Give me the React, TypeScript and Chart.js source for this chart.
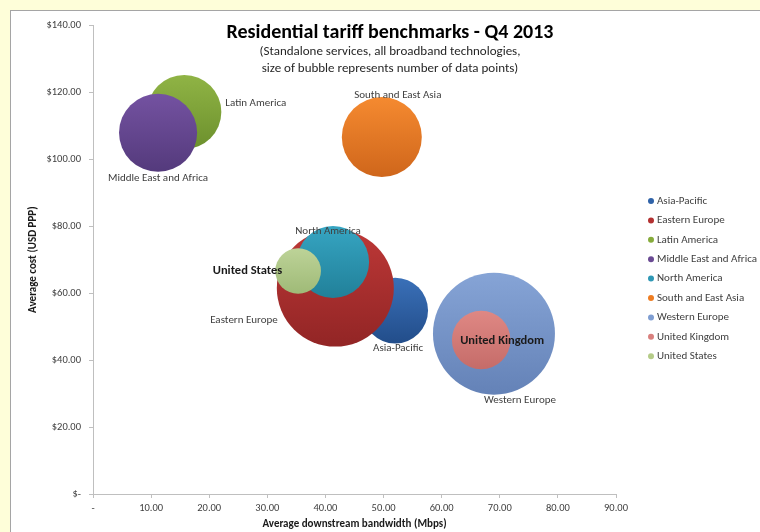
import React, { useEffect, useRef } from 'react';
import { Chart, registerables } from 'chart.js';

Chart.register(...registerables);

// ---------- data ----------
const SERIES = [
  'Asia-Pacific',
  'Eastern Europe',
  'Latin America',
  'Middle East and Africa',
  'North America',
  'South and East Asia',
  'Western Europe',
  'United Kingdom',
  'United States',
];
const BANDWIDTH = [52.0, 41.7, 15.7, 11.2, 41.3, 49.7, 69.0, 66.8, 35.3];
const COST = [54.8, 61.5, 114.1, 107.9, 69.3, 106.6, 47.9, 46.0, 66.6];
const DATA_POINTS = [29, 92, 37, 41, 35, 43, 100, 23, 14];

const X_TICKS = ['-', '10.00', '20.00', '30.00', '40.00', '50.00', '60.00', '70.00', '80.00', '90.00'];
const Y_TICKS = ['$-', '$20.00', '$40.00', '$60.00', '$80.00', '$100.00', '$120.00', '$140.00'];

const TITLE = 'Residential tariff benchmarks - Q4 2013';
const SUBTITLE = [
  '(Standalone services, all broadband technologies,',
  'size of bubble represents number of data points)',
];
const X_TITLE = 'Average downstream bandwidth (Mbps)';
const Y_TITLE = 'Average cost (USD PPP)';

// ---------- styles ----------
const FONT = 'Carlito, Lato, "Open Sans", sans-serif';
const MAX_BUBBLE_R = 61;
const MAX_POINTS = Math.max(...DATA_POINTS);

const COLORS: [string, string, string][] = [
  // [top, bottom, legend]
  ['#3a70b8', '#224d8a', '#2f62a8'],
  ['#bd3837', '#922525', '#b33131'],
  ['#90b445', '#6c902d', '#86ab3b'],
  ['#7452a1', '#543a7c', '#6a4a93'],
  ['#36a5c2', '#218099', '#2f98b5'],
  ['#f58a30', '#cf661b', '#ee7d22'],
  ['#86a4d6', '#6482b7', '#7f9ed2'],
  ['#df8884', '#c56c69', '#d9807e'],
  ['#bdd398', '#9fba77', '#b5cc88'],
];

type Place = { ax: number; ay: number; dx: number; dy: number; align: CanvasTextAlign; bold?: boolean };
const LABEL_PLACES: Place[] = [
  { ax: 0, ay: 1, dx: 3, dy: 5, align: 'center' },
  { ax: -1, ay: 0, dx: 1, dy: 32, align: 'right' },
  { ax: 1, ay: 0, dx: 4, dy: -9, align: 'left' },
  { ax: 0, ay: 1, dx: 0, dy: 6, align: 'center' },
  { ax: 0, ay: -1, dx: -5, dy: 5, align: 'center' },
  { ax: 0, ay: -1, dx: 16, dy: -2, align: 'center' },
  { ax: 0, ay: 1, dx: 26, dy: 6, align: 'center' },
  { ax: 0, ay: 0, dx: 21, dy: 1, align: 'center', bold: true },
  { ax: -1, ay: 0, dx: 7, dy: 0, align: 'right', bold: true },
];

const bubbleLabels = {
  id: 'bubbleLabels',
  afterDatasetsDraw(chart: any) {
    const ctx = chart.ctx as CanvasRenderingContext2D;
    ctx.save();
    ctx.textBaseline = 'middle';
    chart.data.datasets.forEach((ds: any, i: number) => {
      const meta = chart.getDatasetMeta(i);
      const el = meta.data[0];
      if (!el) return;
      const r = el.options.radius;
      const p = LABEL_PLACES[i];
      ctx.font = p.bold ? `bold 12.5px ${FONT}` : `11px ${FONT}`;
      ctx.fillStyle = p.bold ? '#1a1a1a' : '#404040';
      ctx.textAlign = p.align;
      ctx.fillText(ds.label, el.x + p.ax * r + p.dx, el.y + p.ay * r + p.dy);
    });
    ctx.restore();
  },
};

const titleAndLegend = {
  id: 'titleAndLegend',
  afterDraw(chart: any) {
    const ctx = chart.ctx as CanvasRenderingContext2D;
    ctx.save();
    ctx.textBaseline = 'middle';
    ctx.textAlign = 'center';
    ctx.fillStyle = '#000';
    ctx.font = `bold 20px ${FONT}`;
    ctx.fillText(TITLE, 379, 22);
    ctx.font = `13px ${FONT}`;
    ctx.fillStyle = '#262626';
    SUBTITLE.forEach((s, k) => ctx.fillText(s, 379, 40.5 + k * 17));

    // legend
    ctx.textAlign = 'left';
    ctx.font = `11px ${FONT}`;
    SERIES.forEach((s, k) => {
      const y = 190 + k * 19.4;
      ctx.beginPath();
      ctx.arc(640, y, 3, 0, Math.PI * 2);
      ctx.fillStyle = COLORS[k][2];
      ctx.fill();
      ctx.fillStyle = '#404040';
      ctx.fillText(s, 646, y);
    });
    ctx.restore();
  },
};

export default function App() {
  const ref = useRef<HTMLCanvasElement>(null);
  useEffect(() => {
    const datasets = SERIES.map((name, i) => ({
      label: name,
      data: [{ x: BANDWIDTH[i], y: COST[i], r: MAX_BUBBLE_R * Math.sqrt(DATA_POINTS[i] / MAX_POINTS) }],
      order: SERIES.length - i,
      borderWidth: 0,
      borderColor: 'rgba(0,0,0,0)',
      backgroundColor: (c: any) => {
        const chart = c.chart;
        const ys = chart.scales && chart.scales.y;
        if (!ys || c.type !== 'data' || !c.raw) return COLORS[i][2];
        const cy = ys.getPixelForValue(c.raw.y);
        const r = c.raw.r;
        if (!isFinite(cy) || !isFinite(r)) return COLORS[i][2];
        const g = chart.ctx.createLinearGradient(0, cy - r, 0, cy + r);
        g.addColorStop(0, COLORS[i][0]);
        g.addColorStop(1, COLORS[i][1]);
        return g;
      },
    }));

    const chart = new Chart(ref.current!, {
      type: 'bubble',
      data: { datasets },
      plugins: [bubbleLabels, titleAndLegend],
      options: {
        responsive: false,
        animation: false,
        devicePixelRatio: 1,
        layout: { autoPadding: false, padding: { left: 0, top: 12, right: 144, bottom: 1 } },
        plugins: { legend: { display: false }, title: { display: false }, tooltip: { enabled: false } },
        font: { family: FONT },
        scales: {
          x: {
            type: 'linear',
            min: 0,
            max: 90,
            afterFit: (s: any) => {
              s.height = 37;
            },
            grid: { drawOnChartArea: false, drawTicks: true, tickLength: 4, color: '#bfbfbf' },
            border: { color: '#bfbfbf' },
            ticks: {
              stepSize: 10,
              padding: 4,
              color: '#404040',
              font: { family: FONT, size: 10.5 },
              maxRotation: 0,
              callback: (_v: any, idx: number) => X_TICKS[idx],
            },
            title: {
              display: true,
              text: X_TITLE,
              color: '#1a1a1a',
              font: { family: FONT, size: 11, weight: 'bold' },
              padding: { top: 0, bottom: 0 },
            },
          },
          y: {
            type: 'linear',
            min: 0,
            max: 140,
            afterFit: (s: any) => {
              s.width = 82;
            },
            grid: { drawOnChartArea: false, drawTicks: true, tickLength: 4, color: '#bfbfbf' },
            border: { color: '#bfbfbf' },
            ticks: {
              stepSize: 20,
              padding: 8,
              color: '#404040',
              font: { family: FONT, size: 10.5 },
              callback: (_v: any, idx: number) => Y_TICKS[idx],
            },
            title: {
              display: true,
              text: Y_TITLE,
              color: '#1a1a1a',
              font: { family: FONT, size: 11, weight: 'bold' },
              padding: { top: 16, bottom: 0 },
            },
          },
        },
      },
    } as any);
    return () => chart.destroy();
  }, []);

  return (
    <div
      style={{
        position: 'fixed',
        left: 0,
        top: 0,
        width: 760,
        height: 532,
        background: '#fefed9',
        overflow: 'hidden',
      }}
    >
      <div
        style={{
          position: 'absolute',
          left: 10,
          top: 10,
          width: 770,
          height: 540,
          background: '#ffffff',
          border: '1px solid #a5a5a5',
          boxSizing: 'border-box',
        }}
      >
        <canvas ref={ref} width={749} height={521} style={{ display: 'block', width: 749, height: 521 }} />
      </div>
    </div>
  );
}
